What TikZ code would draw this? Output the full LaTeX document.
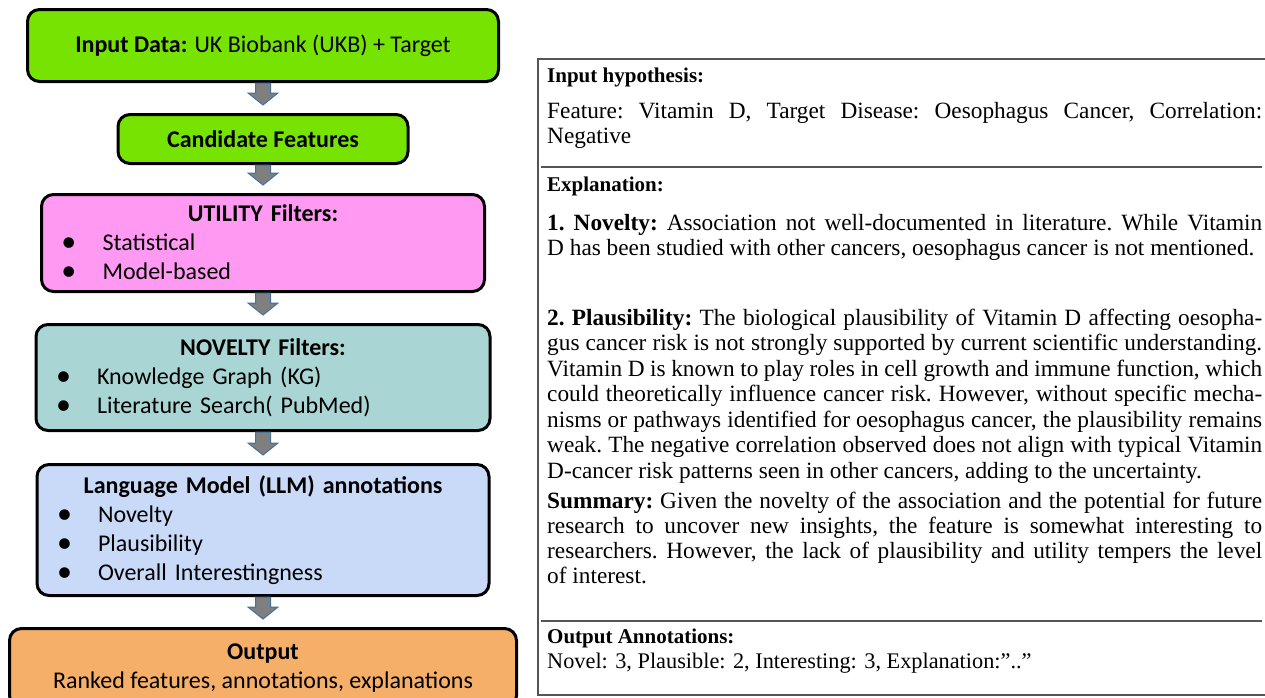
\documentclass[tikz,border=0pt]{standalone}
\usepackage{fontspec}
\setmainfont{Liberation Serif}
\newfontfamily\calibfont{Carlito}
\usepackage{tikz}
\usepackage{xcolor}
\usetikzlibrary{positioning,calc}
\setlength{\parindent}{0pt}

\definecolor{inpgreen}{HTML}{76E400}
\definecolor{utilpink}{HTML}{FF99F2}
\definecolor{novteal}{HTML}{A9D5D4}
\definecolor{llmblue}{HTML}{C9DAF8}
\definecolor{outorange}{HTML}{F5AF68}
\definecolor{arrgray}{HTML}{7F7F7F}
\definecolor{arrblue}{HTML}{41719C}
\definecolor{panelgray}{HTML}{555555}

\tikzset{
  stage/.style={draw,line width=3pt,rounded corners=12pt,align=center,inner sep=0pt,
    font=\calibfont\fontsize{24}{29}\selectfont},
  listbox/.style={stage,text width=#1,align=left},
  barrow/.style={fill=arrgray,draw=arrblue,line width=1pt},
  panelline/.style={draw=panelgray,line width=1.3pt},
  ptext/.style={anchor=base west,inner sep=0pt,text width=715pt,align=justify,
    font=\fontsize{21}{25}\selectfont},
  pbody/.style={ptext,font=\frenchspacing\fontsize{23.3}{25}\selectfont},
}

\newcommand{\itm}[1]{\par\hspace*{20pt}\makebox[41pt][l]{\raisebox{-1pt}{\fontsize{30}{29}\selectfont\textbullet}}#1}
\newcommand{\blockarr}[2]{%
  \draw[barrow] let \p1=(#1.south), \p2=(#2.north) in
    (\x1-7.5pt,\y1) -- (\x1+7.5pt,\y1) -- (\x1+7.5pt,\y2+20pt) -- (\x1+15pt,\y2+20pt)
    -- (\x1,\y2+8pt) -- (\x1-15pt,\y2+20pt) -- (\x1-7.5pt,\y2+20pt) -- cycle;}

\begin{document}
\begin{tikzpicture}[x=1pt,y=1pt]
\useasboundingbox (0,0) rectangle (1265,-697);

% pipeline
\node[stage,fill=inpgreen,minimum width=471pt,minimum height=72pt] (inp) at (263,-45.5)
  {\textbf{Input Data:} UK Biobank (UKB) + Target};
\node[stage,fill=inpgreen,minimum width=290pt,minimum height=49pt,below=30pt of inp] (cand)
  {\textbf{Candidate Features}};
\node[listbox=443pt,fill=utilpink,minimum height=97pt,below=28pt of cand] (util)
  {{\centering\bfseries UTILITY Filters:\par}\itm{Statistical}\itm{Model-based}};
\node[listbox=454pt,fill=novteal,minimum height=106pt,below=30pt of util] (nov)
  {{\centering\bfseries NOVELTY Filters:\par}\itm{Knowledge Graph (KG)}\itm{Literature Search( PubMed)}};
\node[listbox=452pt,fill=llmblue,minimum height=131pt,below=31pt of nov] (llm)
  {{\centering\bfseries Language Model (LLM) annotations\par}\itm{Novelty}\itm{Plausibility}\itm{Overall Interestingness}};
\node[stage,fill=outorange,minimum width=507pt,minimum height=79pt,below=30pt of llm] (out)
  {\textbf{Output}\\Ranked features, annotations, explanations};

\blockarr{inp}{cand}
\blockarr{cand}{util}
\blockarr{util}{nov}
\blockarr{nov}{llm}
\blockarr{llm}{out}

% example panel
\draw[panelline] (538,-59) rectangle (1272,-695);
\node[ptext] (hyphead) at (547,-82) {\textbf{Input hypothesis:}};
\node[pbody] (hyp) at (547,-118) {Feature: Vitamin D, Target Disease: Oesophagus Cancer, Correlation:\linebreak Negative};
\draw[panelline] (541,-167) -- (1262,-167);
\node[ptext] (explhead) at (547,-191) {\textbf{Explanation:}};
\node[pbody] (novtext) at (547,-230) {\textbf{1. Novelty:} Association not well-documented in literature. While Vitamin\linebreak D has been studied with other cancers, oesophagus cancer is not mentioned.};
\node[pbody,font=\frenchspacing\fontsize{23.3}{25.5}\selectfont] (plaus) at (547,-325) {\textbf{2. Plausibility:} The biological plausibility of Vitamin D affecting oesopha-\linebreak gus cancer risk is not strongly supported by current scientific understanding.\linebreak Vitamin D is known to play roles in cell growth and immune function, which\linebreak could theoretically influence cancer risk. However, without specific mecha-\linebreak nisms or pathways identified for oesophagus cancer, the plausibility remains\linebreak weak. The negative correlation observed does not align with typical Vitamin\linebreak D-cancer risk patterns seen in other cancers, adding to the uncertainty.};
\node[pbody] (summ) at (547,-508) {\textbf{Summary:} Given the novelty of the association and the potential for future\linebreak research to uncover new insights, the feature is somewhat interesting to\linebreak researchers. However, the lack of plausibility and utility tempers the level\linebreak of interest.};
\draw[panelline] (541,-621) -- (1262,-621);
\node[ptext] (outhead) at (547,-643) {\textbf{Output Annotations:}};
\node[ptext,font=\fontsize{22.3}{25}\selectfont] (outtext) at (547,-668) {Novel: 3, Plausible: 2, Interesting: 3, Explanation:''..''};
\end{tikzpicture}
\end{document}
